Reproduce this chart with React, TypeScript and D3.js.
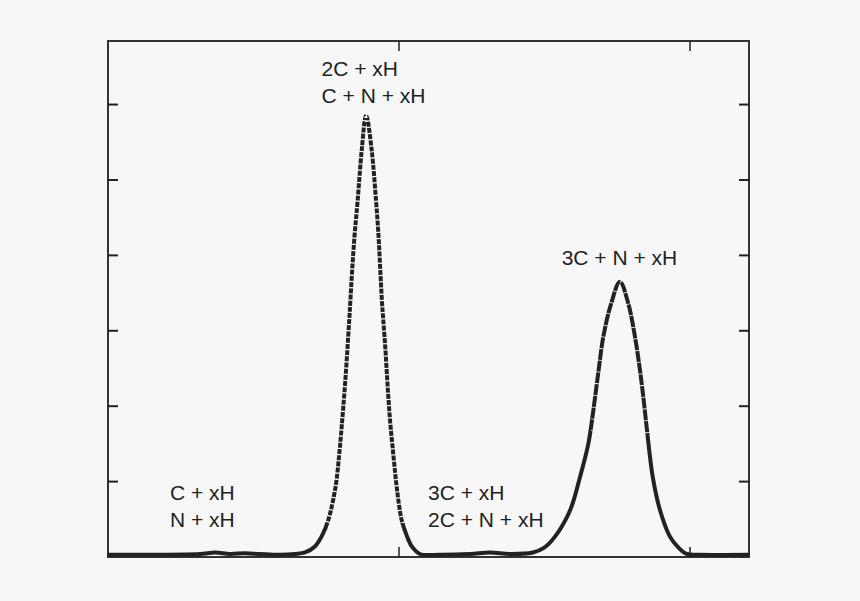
import React from "react";
import * as d3 from "d3";

// Signal (arbitrary units) vs. mass position (arbitrary units)
const xValues = [
  0.003, 0.144, 0.316, 0.368, 0.419, 0.471, 0.522, 0.591, 0.643, 0.677, 0.711, 0.735,
  0.757, 0.782, 0.795, 0.805, 0.814, 0.822, 0.829, 0.833, 0.84, 0.848, 0.858, 0.872,
  0.887, 0.906, 0.921, 0.929, 0.935, 0.941, 0.946, 0.954, 0.961, 0.969, 0.98, 0.992,
  1.009, 1.026, 1.044, 1.072, 1.141, 1.244, 1.313, 1.381, 1.46, 1.498, 1.536, 1.588,
  1.622, 1.651, 1.668, 1.686, 1.702, 1.729, 1.759, 1.788, 1.811, 1.828, 1.842, 1.857,
  1.872, 1.897, 1.931, 1.959, 1.989, 2.034, 2.199,
];
const yValues = [
  0.03, 0.03, 0.04, 0.06, 0.04, 0.05, 0.04, 0.03, 0.04, 0.06, 0.14, 0.28,
  0.49, 0.93, 1.38, 1.82, 2.26, 2.71, 3.14, 3.41, 3.86, 4.3, 4.73, 5.4,
  5.86, 5.4, 4.73, 4.3, 3.86, 3.41, 3.14, 2.71, 2.26, 1.82, 1.38, 0.93,
  0.49, 0.29, 0.14, 0.04, 0.03, 0.04, 0.06, 0.04, 0.06, 0.12, 0.27, 0.62,
  1.06, 1.51, 1.95, 2.48, 2.92, 3.36, 3.65, 3.36, 2.92, 2.48, 2.04, 1.51,
  1.06, 0.62, 0.27, 0.13, 0.04, 0.03, 0.03,
];

const xTicks = [1, 2];
const yTicks = [1, 2, 3, 4, 5, 6];

const labelTexts = [
  ["C + xH", "N + xH"],
  ["2C + xH", "C + N + xH"],
  ["3C + xH", "2C + N + xH"],
  ["3C + N + xH"],
];
const labelAnchors = [
  [0.213, 0.75],
  [0.734, 6.38],
  [1.1, 0.75],
  [1.559, 3.87],
];

const W = 860;
const H = 601;
const left = 108;
const right = 749;
const top = 41;
const bottom = 557;

export default function App() {
  const x = d3.scaleLinear().domain([0, 2.2027]).range([left, right]);
  const y = d3.scaleLinear().domain([0, 6.843]).range([bottom, top]);
  const data = xValues.map((v, i) => [v, yValues[i]] as [number, number]);
  const line = d3
    .line<[number, number]>()
    .x((d) => x(d[0]))
    .y((d) => y(d[1]))
    .curve(d3.curveCatmullRom.alpha(0.5));
  const pathD = line(data) || "";
  const tickLen = 10;
  const ink = "#222";

  return (
    <svg
      width={W}
      height={H}
      style={{ position: "absolute", left: 0, top: 0, background: "#f7f7f7" }}
      fontFamily="'Liberation Sans', Arial, Helvetica, sans-serif"
    >
      <rect x={0} y={0} width={W} height={H} fill="#f7f7f7" />
      <defs>
        <clipPath id="peak1clip">
          <rect x={x(0.72)} y={top} width={x(1.03) - x(0.72)} height={y(0.45) - top} />
        </clipPath>
        <clipPath id="peak2clip">
          <rect x={x(1.66)} y={top} width={x(1.86) - x(1.66)} height={y(1.6) - top} />
        </clipPath>
      </defs>
      {/* frame */}
      <rect
        x={left}
        y={top}
        width={right - left}
        height={bottom - top}
        fill="none"
        stroke="#333"
        strokeWidth={2}
      />
      {/* y ticks, left & right */}
      {yTicks.map((t) => (
        <g key={"y" + t}>
          <line x1={left} x2={left + tickLen} y1={y(t)} y2={y(t)} stroke={ink} strokeWidth={2} />
          <line x1={right} x2={right - tickLen} y1={y(t)} y2={y(t)} stroke={ink} strokeWidth={2} />
        </g>
      ))}
      {/* x ticks, bottom & top */}
      {xTicks.map((t) => (
        <g key={"x" + t}>
          <line x1={x(t)} x2={x(t)} y1={bottom} y2={bottom - tickLen} stroke={ink} strokeWidth={1.5} />
          <line x1={x(t)} x2={x(t)} y1={top} y2={top + tickLen} stroke={ink} strokeWidth={1.5} />
        </g>
      ))}
      {/* curve */}
      <path d={pathD} fill="none" stroke={ink} strokeWidth={4} strokeLinejoin="round" strokeLinecap="round" />
      {/* marker gaps on steep parts */}
      <path
        d={pathD}
        fill="none"
        stroke="#f7f7f7"
        strokeWidth={6}
        strokeDasharray="1.2 5"
        clipPath="url(#peak1clip)"
      />
      <path
        d={pathD}
        fill="none"
        stroke="#f7f7f7"
        strokeWidth={6}
        strokeDasharray="0.8 11"
        clipPath="url(#peak2clip)"
      />
      {/* labels */}
      {labelTexts.map((lines, i) => (
        <text
          key={"l" + i}
          x={x(labelAnchors[i][0])}
          y={y(labelAnchors[i][1])}
          fontSize={21}
          fill={ink}
        >
          {lines.map((s, j) => (
            <tspan key={j} x={x(labelAnchors[i][0])} dy={j === 0 ? 0 : 26.7}>
              {s}
            </tspan>
          ))}
        </text>
      ))}
    </svg>
  );
}
